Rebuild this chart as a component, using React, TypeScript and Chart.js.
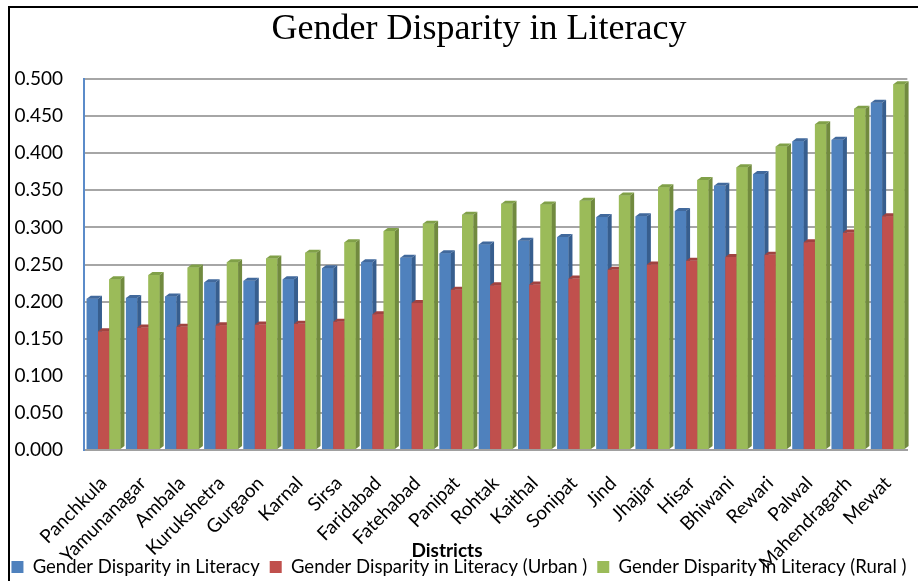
import React, { useEffect, useRef } from 'react';
import { Chart, registerables } from 'chart.js';

Chart.register(...registerables);

const chartTitle = 'Gender Disparity in Literacy';
const xAxisTitle = 'Districts';

const districts = [
  'Panchkula', 'Yamunanagar', 'Ambala', 'Kurukshetra', 'Gurgaon', 'Karnal', 'Sirsa',
  'Faridabad', 'Fatehabad', 'Panipat', 'Rohtak', 'Kaithal', 'Sonipat', 'Jind',
  'Jhajjar', 'Hisar', 'Bhiwani', 'Rewari', 'Palwal', 'Mahendragarh', 'Mewat',
];

const overall = [
  0.204, 0.205, 0.207, 0.226, 0.228, 0.230, 0.245, 0.253, 0.259, 0.265, 0.277,
  0.282, 0.287, 0.314, 0.315, 0.322, 0.356, 0.372, 0.416, 0.418, 0.468,
];

const urban = [
  0.160, 0.165, 0.166, 0.168, 0.169, 0.170, 0.173, 0.183, 0.198, 0.216, 0.222,
  0.223, 0.231, 0.243, 0.250, 0.255, 0.260, 0.263, 0.280, 0.293, 0.315,
];

const rural = [
  0.230, 0.236, 0.246, 0.253, 0.258, 0.266, 0.280, 0.295, 0.305, 0.317, 0.332,
  0.331, 0.336, 0.343, 0.354, 0.364, 0.381, 0.409, 0.439, 0.460, 0.493,
];

const seriesLabels = [
  'Gender Disparity in Literacy',
  'Gender Disparity in Literacy (Urban )',
  'Gender Disparity in Literacy (Rural )',
];

const frontColors = ['#4F81BD', '#C0504D', '#9BBB59'];
const sideColors = ['#375E8E', '#8E3A38', '#718A3F'];
const topColors = ['#41699C', '#A04340', '#80A048'];

const FONT = 'Lato, "Noto Sans", sans-serif';

const frame3d = {
  id: 'frame3d',
  afterLayout(chart: any) {
    // let the rotated category labels run below the axis box (no clipping)
    const sx = chart.scales.x;
    if (sx) sx.bottom = chart.height;
  },
  beforeDraw(chart: any) {
    const { ctx, width, height } = chart;
    ctx.save();
    ctx.fillStyle = '#ffffff';
    ctx.fillRect(0, 0, width, height);
    ctx.strokeStyle = '#000000';
    ctx.lineWidth = 2;
    ctx.beginPath();
    ctx.moveTo(9, height);
    ctx.lineTo(9, 7);
    ctx.lineTo(width, 7);
    ctx.stroke();
    ctx.restore();
  },
  afterDatasetsDraw(chart: any) {
    const ctx = chart.ctx;
    const dx = 4;
    const dy = 3;
    ctx.save();
    chart.data.datasets.forEach((_ds: any, i: number) => {
      const meta = chart.getDatasetMeta(i);
      if (meta.hidden) return;
      meta.data.forEach((el: any) => {
        const { x, y, base, width } = el.getProps(['x', 'y', 'base', 'width'], true);
        const l = x - width / 2;
        const r = x + width / 2;
        ctx.fillStyle = frontColors[i];
        ctx.fillRect(l, y, width, base - y);
        ctx.fillStyle = sideColors[i];
        ctx.beginPath();
        ctx.moveTo(r, y);
        ctx.lineTo(r + dx, y - dy);
        ctx.lineTo(r + dx, base - dy);
        ctx.lineTo(r, base);
        ctx.closePath();
        ctx.fill();
        ctx.fillStyle = topColors[i];
        ctx.beginPath();
        ctx.moveTo(l, y);
        ctx.lineTo(l + dx, y - dy);
        ctx.lineTo(r + dx, y - dy);
        ctx.lineTo(r, y);
        ctx.closePath();
        ctx.fill();
      });
    });
    ctx.restore();
  },
  afterDraw(chart: any) {
    const ctx = chart.ctx;
    ctx.save();
    ctx.fillStyle = '#000000';
    ctx.textAlign = 'center';
    ctx.textBaseline = 'middle';
    ctx.font = '36px "Liberation Serif", "DejaVu Serif", serif';
    ctx.fillText(chartTitle, 479, 30);
    ctx.font = 'bold 19px ' + FONT;
    ctx.fillText(xAxisTitle, 447, 551);
    ctx.restore();
  },
};

export default function App() {
  const canvasRef = useRef<HTMLCanvasElement | null>(null);

  useEffect(() => {
    if (!canvasRef.current) return;
    const seriesValues = [overall, urban, rural];
    const chart = new Chart(canvasRef.current, {
      type: 'bar',
      data: {
        labels: districts,
        datasets: seriesValues.map((vals, i) => ({
          label: seriesLabels[i],
          data: vals,
          backgroundColor: frontColors[i],
          borderWidth: 0,
          categoryPercentage: 0.86,
          barPercentage: 1,
        })),
      },
      plugins: [frame3d],
      options: {
        animation: false,
        responsive: true,
        maintainAspectRatio: false,
        layout: { padding: { left: 0, right: 0, top: 79, bottom: -5.25 } },
        plugins: {
          title: { display: false },
          legend: {
            position: 'bottom',
            labels: {
              color: '#000000',
              font: { family: FONT, size: 18.5 },
              boxWidth: 12,
              boxHeight: 12,
              padding: 10,
            },
          },
          tooltip: { enabled: false },
        },
        scales: {
          x: {
            grid: { display: false },
            border: { display: true, color: '#A0A0A0', width: 2 },
            ticks: {
              color: '#000000',
              font: { family: FONT, size: 19 },
              maxRotation: 45,
              minRotation: 45,
              autoSkip: false,
              padding: 14,
            },
            afterFit: (scale: any) => {
              scale.height = 97.75;
            },
          },
          y: {
            min: 0,
            max: 0.5,
            grid: { color: '#A6A6A6', lineWidth: 2, drawTicks: false },
            border: { display: true, color: '#5B8BC9', width: 2 },
            ticks: {
              stepSize: 0.05,
              color: '#000000',
              font: { family: FONT, size: 19 },
              padding: 21,
              callback: (v: any) => Number(v).toFixed(3),
            },
            afterFit: (scale: any) => {
              scale.width = 84;
            },
          },
          yRight: {
            type: 'linear',
            position: 'right',
            display: true,
            grid: { display: false, drawTicks: false },
            border: { display: false },
            ticks: { display: false },
            afterFit: (scale: any) => {
              scale.width = 6;
            },
          },
        },
      },
    });
    return () => chart.destroy();
  }, []);

  return (
    <div style={{ position: 'absolute', left: 0, top: 0, width: 918, height: 581 }}>
      <canvas ref={canvasRef} />
    </div>
  );
}
